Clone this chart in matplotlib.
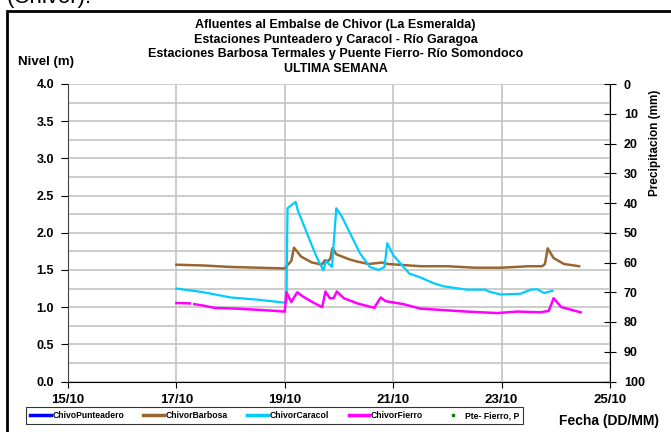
import numpy as np
import matplotlib
matplotlib.use('agg')
import matplotlib.pyplot as plt
from matplotlib.patches import Rectangle
from matplotlib.lines import Line2D
from matplotlib.ticker import MultipleLocator, FixedLocator, FormatStrFormatter

plt.rcParams['font.family'] = ['Liberation Sans', 'DejaVu Sans']
plt.rcParams['font.weight'] = 'bold'

# time axis: day of October (fractional)
barbosa_t = [17.0, 17.5, 18.0, 18.5, 19.0, 19.03, 19.12, 19.17, 19.3, 19.5, 19.6, 19.68,
             19.74, 19.8, 19.84, 19.88, 19.95, 20.2, 20.35, 20.55, 20.8, 20.9, 21.1, 21.5,
             22.0, 22.5, 23.0, 23.5, 23.75, 23.8, 23.85, 23.96, 24.15, 24.43]
barbosa_v = [1.57, 1.56, 1.54, 1.53, 1.52, 1.55, 1.62, 1.80, 1.68, 1.60, 1.585, 1.57,
             1.63, 1.62, 1.65, 1.795, 1.71, 1.64, 1.61, 1.58, 1.60, 1.58, 1.57, 1.55,
             1.55, 1.53, 1.53, 1.55, 1.55, 1.58, 1.79, 1.66, 1.58, 1.55]

caracol_t = [17.0, 17.5, 18.0, 18.5, 19.0, 19.03, 19.05, 19.12, 19.2, 19.24, 19.34, 19.46,
             19.59, 19.71, 19.76, 19.8, 19.87, 19.95, 20.05, 20.2, 20.39, 20.57, 20.73,
             20.84, 20.89, 21.0, 21.19, 21.3, 21.5, 21.75, 21.93, 22.36, 22.7, 22.76,
             22.98, 23.35, 23.54, 23.66, 23.78, 23.94]
caracol_v = [1.25, 1.20, 1.13, 1.10, 1.06, 1.06, 2.33, 2.37, 2.415, 2.30, 2.12, 1.90,
             1.67, 1.495, 1.62, 1.59, 1.54, 2.33, 2.22, 2.0, 1.72, 1.54, 1.50,
             1.54, 1.86, 1.70, 1.54, 1.45, 1.40, 1.32, 1.28, 1.235, 1.235, 1.21,
             1.17, 1.18, 1.235, 1.24, 1.19, 1.22]

fierro_t = [17.0, 17.25, 17.27, 17.33, 17.5, 17.7, 18.1, 18.6, 19.0, 19.03, 19.12, 19.23,
            19.34, 19.53, 19.69, 19.75, 19.83, 19.9, 19.96, 20.09, 20.34, 20.65, 20.77,
            20.86, 21.19, 21.5, 22.36, 22.92, 23.29, 23.72, 23.87, 23.96, 24.1, 24.46]
fierro_v = [1.055, 1.05, np.nan, 1.04, 1.02, 0.99, 0.98, 0.96, 0.94, 1.20, 1.07, 1.20,
            1.14, 1.06, 1.0, 1.21, 1.12, 1.12, 1.21, 1.12, 1.05, 0.99, 1.13,
            1.08, 1.04, 0.98, 0.94, 0.92, 0.94, 0.93, 0.95, 1.12, 1.0, 0.93]

date_ticks = [15, 17, 19, 21, 23, 25]
date_labels = ['15/10', '17/10', '19/10', '21/10', '23/10', '25/10']

title_lines = ['Afluentes al Embalse de Chivor (La Esmeralda)',
               'Estaciones Punteadero y Caracol - Río Garagoa',
               'Estaciones Barbosa Termales y Puente Fierro- Río Somondoco',
               'ULTIMA SEMANA']

W, H = 671, 432
fig = plt.figure(figsize=(W/100, H/100), dpi=100)
ax = fig.add_axes([68/W, 1-381.5/H, 542/W, 297.5/H])

grid_c = '#c4c4c4'
ax.set_xlim(15, 25)
ax.set_ylim(0, 4)
ax.xaxis.set_major_locator(FixedLocator(date_ticks))
ax.set_xticklabels(date_labels)
ax.yaxis.set_major_locator(MultipleLocator(0.5))
ax.yaxis.set_minor_locator(MultipleLocator(0.25))
ax.yaxis.set_major_formatter(FormatStrFormatter('%.1f'))
ax.grid(True, which='both', axis='y', color=grid_c, lw=1.2)
ax.grid(True, which='major', axis='x', color=grid_c, lw=1.2)
ax.tick_params(axis='y', which='minor', length=0)
ax.tick_params(axis='y', which='major', direction='out', length=5, labelsize=9, pad=5)
ax.tick_params(axis='x', direction='out', length=4, labelsize=9.5, pad=5)
ax.spines['top'].set_visible(False)
ax.spines['right'].set_visible(False)
ax.spines['left'].set_color('#404040')
ax.set_axisbelow(True)

ax.plot(barbosa_t, barbosa_v, color='#996633', lw=1.8)
ax.plot(caracol_t, caracol_v, color='#00CCFF', lw=1.6)
ax.plot(fierro_t, fierro_v, color='#FF00FF', lw=1.8)

# precipitation axis (inverted)
ax2 = ax.twinx()
ax2.set_ylim(100, 0)
ax2.yaxis.set_major_locator(MultipleLocator(10))
ax2.tick_params(axis='y', direction='inout', length=8, labelsize=9, pad=6)
for s in ['top', 'left', 'bottom']:
    ax2.spines[s].set_visible(False)

handles = [Line2D([], [], color='#0000FF', lw=2.5),
           Line2D([], [], color='#996633', lw=2.5),
           Line2D([], [], color='#00CCFF', lw=2.5),
           Line2D([], [], color='#FF00FF', lw=2.5),
           Line2D([], [], color='#008000', ls='none', marker='s', ms=1.5)]
labels = ['ChivoPunteadero', 'ChivorBarbosa', 'ChivorCaracol', 'ChivorFierro', 'Pte- Fierro, P']
leg = fig.legend(handles, labels, loc='center', bbox_to_anchor=(274.5/W, 1-415.5/H),
                 ncol=5, fontsize=6.2, frameon=True, fancybox=False, handlelength=2.4,
                 handletextpad=0.2, columnspacing=2.25, borderpad=0.45)
leg.get_frame().set_edgecolor('black')
leg.get_frame().set_linewidth(0.8)

for i, line in enumerate(title_lines):
    fig.text(0.5, 1-(25 + 14.7*i)/H, line, ha='center', va='center', fontsize=9,
             fontweight='bold')
fig.text(46/W, 1-62/H, 'Nivel (m)', ha='center', va='center', fontsize=9.5, fontweight='bold')
fig.text(655/W, 1-143/H, 'Precipitacion (mm)', rotation=90, ha='center', va='center',
         fontsize=8.5, fontweight='bold')
fig.text(609/W, 1-421/H, 'Fecha (DD/MM)', ha='center', va='center', fontsize=10,
         fontweight='bold')
fig.text(7/W, 1-3/H, '(Chivor).', ha='left', va='baseline', fontsize=16, fontweight='normal')

fig.add_artist(Rectangle((6.5/W, -0.05), 1.2, 1.05-10.5/H, transform=fig.transFigure,
                         fill=False, edgecolor='black', lw=2))

fig.savefig('out.png', dpi=100)
